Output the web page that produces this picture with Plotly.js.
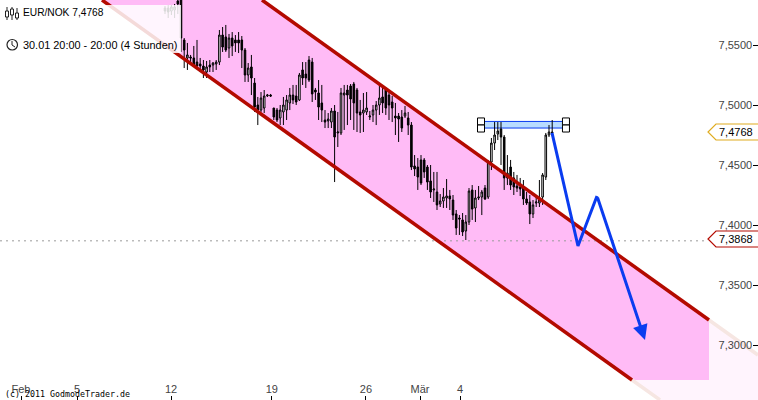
<!DOCTYPE html>
<html>
<head>
<meta charset="utf-8">
<script src="https://cdn.plot.ly/plotly-3.0.1.min.js"></script>
<style>
  html, body { margin: 0; padding: 0; background: #fff; overflow: hidden; }
  #chart { width: 758px; height: 400px; }
</style>
</head>
<body>
<div id="chart"></div>
<script>
// 4-Stunden-Kerzen EUR/NOK, x = Kerzennummer seit 1. Feb
const firstCandle = 45;
const opens = [7.5808,7.5808,7.5783,7.5792,7.5867,7.5925,7.5542,7.5392,7.5400,7.5392,7.5358,7.5342,7.5325,7.5275,7.5333,7.5333,7.5342,7.5358,7.5583,7.5567,7.5475,7.5558,7.5542,7.5542,7.5542,7.5458,7.5250,7.5317,7.5183,7.5000,7.4958,7.4975,7.5075,7.5083,7.4975,7.4958,7.4892,7.4942,7.4958,7.5017,7.5083,7.5075,7.5042,7.5292,7.5258,7.5375,7.5358,7.5125,7.5100,7.5017,7.4875,7.4867,7.4858,7.4950,7.4767,7.4767,7.5083,7.5125,7.5158,7.5175,7.5125,7.4942,7.4933,7.4942,7.4900,7.4917,7.4958,7.5000,7.5067,7.5125,7.5083,7.5025,7.4908,7.4908,7.4900,7.4908,7.4892,7.4833,7.4492,7.4483,7.4542,7.4542,7.4483,7.4367,7.4292,7.4275,7.4175,7.4200,7.4225,7.4242,7.4208,7.4092,7.4058,7.4042,7.3950,7.4025,7.4292,7.4142,7.4225,7.4233,7.4308,7.4233,7.4525,7.4683,7.4758,7.4800,7.4733,7.4392,7.4483,7.4392,7.4325,7.4317,7.4308,7.4217,7.4192,7.4092,7.4183,7.4183,7.4233,7.4400,7.4750,7.4775];
const highs = [7.5825,7.5833,7.5833,7.5842,7.5892,7.5975,7.5558,7.5517,7.5417,7.5492,7.5542,7.5392,7.5375,7.5367,7.5375,7.5358,7.5375,7.5625,7.5650,7.5667,7.5592,7.5608,7.5583,7.5608,7.5575,7.5475,7.5350,7.5417,7.5225,7.5067,7.5108,7.5125,7.5092,7.5092,7.4975,7.4975,7.5000,7.5067,7.5083,7.5142,7.5167,7.5167,7.5267,7.5358,7.5358,7.5408,7.5392,7.5142,7.5208,7.5167,7.4958,7.4933,7.4975,7.5000,7.4942,7.5142,7.5167,7.5167,7.5175,7.5192,7.5142,7.5042,7.5100,7.5108,7.4950,7.5000,7.5033,7.5167,7.5167,7.5150,7.5125,7.5075,7.5017,7.4933,7.4958,7.4992,7.4942,7.4858,7.4583,7.4558,7.4583,7.4558,7.4500,7.4500,7.4442,7.4442,7.4258,7.4308,7.4383,7.4292,7.4250,7.4125,7.4083,7.4100,7.4083,7.4308,7.4333,7.4292,7.4325,7.4292,7.4333,7.4542,7.4725,7.4858,7.4858,7.4858,7.4750,7.4583,7.4542,7.4442,7.4417,7.4392,7.4375,7.4275,7.4250,7.4208,7.4250,7.4375,7.4433,7.4767,7.4833,7.4875];
const lows = [7.5758,7.5725,7.5750,7.5725,7.5758,7.5442,7.5308,7.5292,7.5350,7.5317,7.5308,7.5275,7.5225,7.5225,7.5275,7.5275,7.5292,7.5333,7.5442,7.5442,7.5392,7.5408,7.5442,7.5433,7.5308,7.5192,7.5192,7.5083,7.4942,7.4833,7.4942,7.4933,7.5067,7.5067,7.4875,7.4858,7.4833,7.4833,7.4875,7.4958,7.5008,7.5000,7.5033,7.5167,7.5142,7.5192,7.5025,7.5042,7.4875,7.4858,7.4808,7.4808,7.4808,7.4358,7.4650,7.4750,7.4792,7.4833,7.4875,7.4792,7.4775,7.4767,7.4775,7.4917,7.4875,7.4858,7.4833,7.4917,7.4933,7.4917,7.4875,7.4858,7.4750,7.4692,7.4775,7.4892,7.4750,7.4458,7.4408,7.4292,7.4333,7.4392,7.4292,7.4225,7.4192,7.4125,7.4150,7.4142,7.4142,7.4125,7.4042,7.3917,7.3917,7.3908,7.3875,7.4000,7.4042,7.4025,7.4208,7.4083,7.4208,7.4217,7.4458,7.4625,7.4708,7.4500,7.4292,7.4333,7.4292,7.4250,7.4275,7.4242,7.4167,7.4167,7.4008,7.4058,7.4150,7.4150,7.4167,7.4375,7.4733,7.4767];
const closes = [7.5783,7.5775,7.5817,7.5817,7.5842,7.5558,7.5458,7.5417,7.5392,7.5333,7.5325,7.5325,7.5292,7.5317,7.5317,7.5350,7.5358,7.5583,7.5483,7.5458,7.5558,7.5492,7.5517,7.5517,7.5458,7.5250,7.5308,7.5225,7.4983,7.4958,7.5058,7.5075,7.5083,7.5075,7.4900,7.4875,7.4958,7.5000,7.5042,7.5083,7.5042,7.5025,7.5250,7.5225,7.5225,7.5208,7.5092,7.5108,7.4983,7.4958,7.4858,7.4883,7.4950,7.4733,7.4775,7.5100,7.5100,7.5083,7.5050,7.5017,7.4933,7.4917,7.4958,7.4975,7.4908,7.4958,7.5000,7.5058,7.5017,7.4975,7.5000,7.4975,7.4892,7.4883,7.4808,7.4933,7.4833,7.4483,7.4467,7.4400,7.4350,7.4442,7.4358,7.4275,7.4300,7.4167,7.4200,7.4233,7.4242,7.4217,7.4083,7.3975,7.4050,7.3942,7.4025,7.4283,7.4133,7.4225,7.4233,7.4275,7.4217,7.4525,7.4683,7.4750,7.4783,7.4733,7.4392,7.4433,7.4333,7.4317,7.4308,7.4300,7.4217,7.4183,7.4092,7.4167,7.4192,7.4208,7.4417,7.4750,7.4775,7.4768];
const candleX = closes.map(function (c, i) { return firstCandle + i; });

// Trendkanal
const upperX = [75.31, 215];
const upperY = [7.5875, 7.3208];
const upperFadeX = [215, 230.31];
const upperFadeY = [7.3208, 7.2917];
const lowerX = [25.31, 190.94];
const lowerY = [7.5875, 7.2708];
const lowerFadeX = [190.94, 199.69];
const lowerFadeY = [7.2708, 7.2542];
const channelX = [25.31, 75.31, 215, 215, 190.94];
const channelY = [7.5875, 7.5875, 7.3208, 7.2708, 7.2708];
const fadeX = [190.94, 215, 215, 230.31, 230.31, 199.69];
const fadeY = [7.2708, 7.2708, 7.3208, 7.2917, 7.2542, 7.2542];

// Prognose-Pfeil und Widerstandszone
const arrowX = [165.94, 174.06, 180, 195];
const arrowY = [7.4767, 7.3825, 7.4242, 7.3042];
const zoneX = [143.75, 170.3];
const zoneY = [7.4863, 7.4808];
const handleX = [143.75, 143.75, 170.3, 170.3];
const handleY = [7.4863, 7.4804, 7.4863, 7.4804];
const lowPrice = 7.3868;
const lastPrice = 7.4768;

const yTicks = [7.55, 7.5, 7.45, 7.4, 7.35, 7.3];
const yLabels = ["7,5500", "7,5000", "7,4500", "7,4000", "7,3500", "7,3000"];
const xTicks = [0, 17.5, 46.9, 78.4, 107.8, 124.7, 137.2];
const xLabels = ["Feb", "5", "12", "19", "26", "Mär", "4"];

const W = 758, H = 400;
const textFont = { family: "Liberation Sans, Arial, sans-serif", size: 11, color: "#000" };

function px(x) { return x / W; }
function py(y) { return 1 - y / H; }

function polygon(xs, ys) {
  return "M" + xs.map(function (x, i) { return x + "," + ys[i]; }).join("L") + "Z";
}

function tag(y, color) {
  return {
    type: "path", xref: "paper", yref: "paper", layer: "above",
    line: { color: color, width: 1.2 },
    path: "M1," + py(y - 8) + "L" + px(716) + "," + py(y - 8) + "L" + px(708) + "," + py(y) +
      "L" + px(716) + "," + py(y + 8) + "L1," + py(y + 8)
  };
}

function iconLine(x0, y0, x1, y1, width) {
  return {
    type: "line", xref: "paper", yref: "paper", layer: "above",
    x0: px(x0), y0: py(y0), x1: px(x1), y1: py(y1),
    line: { color: "#222", width: width || 1 }
  };
}

function iconBody(x0, y0, x1, y1) {
  return {
    type: "rect", xref: "paper", yref: "paper", layer: "above",
    x0: px(x0), y0: py(y0), x1: px(x1), y1: py(y1),
    fillcolor: "#fff", line: { color: "#222", width: 1 }
  };
}

function label(text, x, y, anchor, font) {
  return {
    text: text, xref: "paper", yref: "paper", x: px(x), y: py(y),
    xanchor: anchor, yanchor: "middle", showarrow: false, font: font || textFont
  };
}

const traces = [
  {
    type: "scatter", mode: "lines", x: [-6.56, 214.4], y: [lowPrice, lowPrice],
    line: { color: "#9a9a9a", width: 1, dash: "2px 4px" }
  },
  {
    type: "candlestick", x: candleX, open: opens, high: highs, low: lows, close: closes,
    whiskerwidth: 0,
    increasing: { line: { color: "#000", width: 1 }, fillcolor: "#fff" },
    decreasing: { line: { color: "#000", width: 1 }, fillcolor: "#000" }
  },
  { type: "scatter", mode: "lines", x: upperFadeX, y: upperFadeY, line: { color: "#f6e6e2", width: 3.5 } },
  { type: "scatter", mode: "lines", x: lowerFadeX, y: lowerFadeY, line: { color: "#f6e6e2", width: 3.5 } },
  { type: "scatter", mode: "lines", x: upperX, y: upperY, line: { color: "#b30a00", width: 3.5 } },
  { type: "scatter", mode: "lines", x: lowerX, y: lowerY, line: { color: "#b30a00", width: 3.5 } },
  {
    type: "scatter", mode: "lines", x: arrowX.slice(0, 3), y: arrowY.slice(0, 3),
    line: { color: "#0a3cf0", width: 3 }
  },
  {
    type: "scatter", mode: "markers", x: handleX, y: handleY,
    marker: { symbol: "square", size: 7, color: "#fff", line: { color: "#000", width: 1 } }
  }
];

const layout = {
  width: W, height: H,
  margin: { l: 0, r: 0, t: 0, b: 0 },
  paper_bgcolor: "#fff",
  plot_bgcolor: "#fff",
  showlegend: false,
  font: textFont,
  xaxis: {
    type: "linear", range: [-6.5625, 230.3125], rangeslider: { visible: false },
    tickmode: "array", tickvals: xTicks, ticktext: xLabels,
    ticks: "inside", ticklen: 4, tickcolor: "#000", ticklabelposition: "inside",
    showgrid: false, zeroline: false, showline: false
  },
  yaxis: {
    type: "linear", range: [7.25417, 7.5875], side: "right",
    tickmode: "array", tickvals: yTicks, ticktext: yLabels,
    ticks: "inside", ticklen: 5, tickcolor: "#000", ticklabelposition: "inside",
    showgrid: false, zeroline: false, showline: false
  },
  shapes: [
    { type: "path", layer: "below", xref: "x", yref: "y", path: polygon(fadeX, fadeY), fillcolor: "#fff4fd", line: { width: 0 } },
    { type: "path", layer: "below", xref: "x", yref: "y", path: polygon(channelX, channelY), fillcolor: "#ffbbf6", line: { width: 0 } },
    {
      type: "rect", layer: "below", xref: "x", yref: "y",
      x0: zoneX[0], x1: zoneX[1], y0: zoneY[0], y1: zoneY[1],
      fillcolor: "#b9dcff", line: { color: "#0a3cf0", width: 1 }
    },
    // Legende liegt halbtransparent ueber dem Chart
    {
      type: "rect", layer: "above", xref: "paper", yref: "paper",
      x0: 0, x1: px(181), y0: py(53), y1: py(5),
      fillcolor: "rgba(255,255,255,0.85)", line: { width: 0 }
    },
    tag(132, "#e0ac20"),
    tag(239, "#b30a00"),
    iconLine(7, 7, 7, 20), iconBody(5.5, 11, 8.5, 17),
    iconLine(12, 7, 12, 20), iconBody(10.5, 9, 13.5, 15),
    iconLine(17, 8, 17, 20), iconBody(15.5, 13, 18.5, 18),
    {
      type: "circle", xref: "paper", yref: "paper", layer: "above",
      x0: px(7), x1: px(17.5), y0: py(50), y1: py(39.5),
      line: { color: "#222", width: 1.2 }
    },
    iconLine(12, 41, 12, 45, 1), iconLine(12, 45, 15, 47, 1)
  ],
  annotations: [
    label("EUR/NOK 7,4768", 21, 13, "left", { family: textFont.family, size: 10.2, color: "#000" }),
    label("30.01 20:00 - 20:00 (4 Stunden)", 21, 45, "left", { family: textFont.family, size: 10.9, color: "#000" }),
    label("7,4768", 736, 132, "center"),
    label("7,3868", 736, 239, "center"),
    label("(c) 2011 GodmodeTrader.de", 3, 394, "left", { family: "DejaVu Sans Mono, monospace", size: 8.3, color: "#000" }),
    {
      x: arrowX[3], y: arrowY[3], xref: "x", yref: "y",
      ax: arrowX[2], ay: arrowY[2], axref: "x", ayref: "y",
      text: "", showarrow: true, arrowhead: 2, arrowsize: 1, arrowwidth: 3, arrowcolor: "#0a3cf0"
    }
  ]
};

Plotly.newPlot("chart", traces, layout, { staticPlot: true, displayModeBar: false });
</script>
</body>
</html>
